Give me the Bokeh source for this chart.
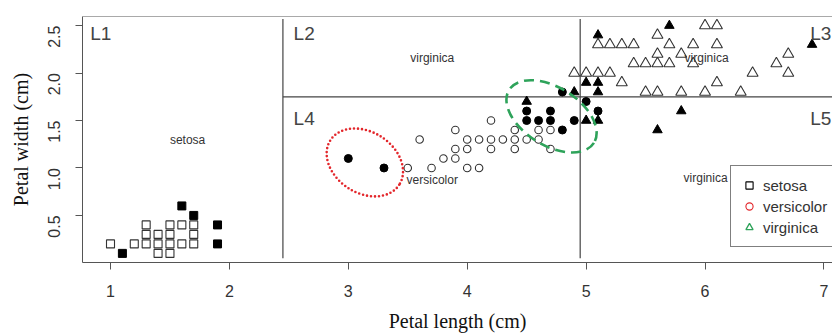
import math
from bokeh.plotting import figure
from bokeh.models import Range1d, FixedTicker, Span, Legend, LegendItem
from bokeh.core.properties import value
from bokeh.embed import file_html
from bokeh.resources import INLINE

# ---------------- data (petal length, petal width) ----------------
setosa_open_x = [1.0, 1.2, 1.3, 1.4, 1.5, 1.6, 1.7, 1.4, 1.5, 1.3, 1.4, 1.5, 1.7, 1.3, 1.5, 1.6, 1.7]
setosa_open_y = [0.2, 0.2, 0.2, 0.2, 0.2, 0.2, 0.2, 0.1, 0.1, 0.3, 0.3, 0.3, 0.3, 0.4, 0.4, 0.4, 0.4]
setosa_fill_x = [1.1, 1.9, 1.9, 1.7, 1.6]
setosa_fill_y = [0.1, 0.2, 0.4, 0.5, 0.6]

versicolor_open_x = [3.5, 3.7, 4.0, 4.1, 3.8, 3.9, 3.9, 4.0, 4.2, 4.4, 4.7, 3.6, 4.0, 4.1, 4.2, 4.3,
                     4.4, 4.5, 4.6, 3.9, 4.4, 4.6, 4.7, 4.2]
versicolor_open_y = [1.0, 1.0, 1.0, 1.0, 1.1, 1.1, 1.2, 1.2, 1.2, 1.2, 1.2, 1.3, 1.3, 1.3, 1.3, 1.3,
                     1.3, 1.3, 1.3, 1.4, 1.4, 1.4, 1.4, 1.5]
versicolor_fill_x = [3.0, 3.3, 4.8, 4.5, 4.6, 4.7, 4.9, 4.5, 4.7, 5.1, 5.0, 4.8]
versicolor_fill_y = [1.1, 1.0, 1.4, 1.5, 1.5, 1.5, 1.5, 1.6, 1.6, 1.6, 1.7, 1.8]

virginica_open_x = [6.0, 6.1, 5.6, 5.1, 5.2, 5.3, 5.4, 5.7, 5.9, 6.1, 5.6, 5.8, 6.7, 5.4, 5.5, 5.6,
                    5.7, 5.9, 6.6, 4.9, 5.0, 5.1, 5.2, 6.4, 6.7, 5.3, 6.1, 5.5, 5.6, 5.8, 6.0, 6.3]
virginica_open_y = [2.5, 2.5, 2.4, 2.3, 2.3, 2.3, 2.3, 2.3, 2.3, 2.3, 2.2, 2.2, 2.2, 2.1, 2.1, 2.1,
                    2.1, 2.1, 2.1, 2.0, 2.0, 2.0, 2.0, 2.0, 2.0, 1.9, 1.9, 1.8, 1.8, 1.8, 1.8, 1.8]
virginica_fill_x = [5.7, 5.1, 6.9, 5.0, 5.1, 4.9, 5.1, 4.5, 5.8, 5.6, 5.0, 5.1]
virginica_fill_y = [2.5, 2.4, 2.3, 1.9, 1.9, 1.8, 1.8, 1.7, 1.6, 1.4, 1.5, 1.5]

# decision-tree split lines
split_x0 = [2.45, 4.95, 2.45]
split_y0 = [0.05, 0.05, 1.75]
split_x1 = [2.45, 4.95, 7.2]
split_y1 = [2.57, 2.57, 1.75]

# region names and class annotations
region_labels = ["L1", "L2", "L3", "L4", "L5"]
region_label_x = [0.83, 2.54, 6.885, 2.54, 6.885]
region_label_y = [2.415, 2.415, 2.415, 1.52, 1.52]

class_labels = ["setosa", "virginica", "versicolor", "virginica", "virginica"]
class_label_x = [1.648, 3.706, 3.706, 6.013, 6.005]
class_label_y = [1.30, 2.163, 0.875, 2.163, 0.89]

# highlighted groups (ellipse centres)
ellipse_x = [3.139, 4.709]
ellipse_y = [1.058, 1.544]

x_ticks = [1, 2, 3, 4, 5, 6, 7]
x_tick_labels = ["1", "2", "3", "4", "5", "6", "7"]
y_ticks = [0.5, 1.0, 1.5, 2.0, 2.5]
y_tick_labels = ["0.5", "1.0", "1.5", "2.0", "2.5"]

legend_names = ["setosa", "versicolor", "virginica"]

# ---------------- figure ----------------
p = figure(width=832, height=336, output_backend="svg", toolbar_location=None,
           x_range=Range1d(0.7645, 7.072), y_range=Range1d(0.004, 2.596),
           min_border_left=82, min_border_right=0, min_border_top=16, min_border_bottom=74)
p.outline_line_color = None
p.grid.visible = False
p.background_fill_color = "white"
p.border_fill_color = "white"

FRAME = "#555555"
for ax in (p.xaxis[0], p.yaxis[0]):
    ax.axis_line_color = FRAME
    ax.major_tick_line_color = FRAME
    ax.minor_tick_line_color = None
    ax.major_tick_out = 7
    ax.major_tick_in = 0
    ax.major_label_text_font = "Liberation Sans"
    ax.major_label_text_font_size = "16px"
    ax.major_label_text_color = "#333333"
    ax.axis_label_text_font = "Liberation Serif"
    ax.axis_label_text_font_size = "20px"
    ax.axis_label_text_font_style = "normal"
    ax.axis_label_text_color = "#111111"

p.xaxis.ticker = FixedTicker(ticks=x_ticks)
p.xaxis.major_label_overrides = dict(zip(x_ticks, x_tick_labels))
p.xaxis.major_label_standoff = 15
p.xaxis.axis_label = "Petal length (cm)"
p.xaxis.axis_label_standoff = 10

p.yaxis.ticker = FixedTicker(ticks=y_ticks)
p.yaxis.major_label_overrides = dict(zip(y_ticks, y_tick_labels))
p.yaxis.major_label_orientation = math.pi / 2
p.yaxis.major_label_standoff = 21
p.yaxis.axis_label = "Petal width (cm)"
p.yaxis.axis_label_standoff = 8

p.add_layout(Span(location=2.596, dimension="width", line_color=FRAME, line_width=1))

# split lines
p.segment(x0=split_x0, y0=split_y0, x1=split_x1, y1=split_y1, line_color="#444444", line_width=1.2)

OPEN = "#333333"
# open markers
p.scatter(setosa_open_x, setosa_open_y, marker="square", size=8, fill_color=None,
          line_color=OPEN, line_width=1.1)
p.scatter(versicolor_open_x, versicolor_open_y, marker="circle", size=7.5, fill_color=None,
          line_color=OPEN, line_width=1.1)
p.scatter(virginica_open_x, virginica_open_y, marker="triangle", size=11, fill_color=None,
          line_color=OPEN, line_width=1.1)
# filled markers
p.scatter(setosa_fill_x, setosa_fill_y, marker="square", size=8, fill_color="black", line_color="black")
p.scatter(versicolor_fill_x, versicolor_fill_y, marker="circle", size=8, fill_color="black", line_color="black")
p.scatter(virginica_fill_x, virginica_fill_y, marker="triangle", size=9.5, fill_color="black", line_color="black")

# ellipses
p.ellipse(x=ellipse_x[:1], y=ellipse_y[:1], width=82, height=61, angle=-33, angle_units="deg",
          width_units="screen", height_units="screen", fill_color=None,
          line_color="#e3262b", line_width=2.6, line_dash="0 4", line_cap="round")
p.ellipse(x=ellipse_x[1:], y=ellipse_y[1:], width=100, height=58, angle=-32, angle_units="deg",
          width_units="screen", height_units="screen", fill_color=None,
          line_color="#2ea35a", line_width=2.6, line_dash="10 6")

# labels
p.text(x=region_label_x, y=region_label_y, text=region_labels, text_font=value("Liberation Sans"),
       text_font_size="19px", text_color="#444444", text_baseline="middle", text_align="left")
p.text(x=class_label_x, y=class_label_y, text=class_labels, text_font=value("Liberation Sans"),
       text_font_size="12px", text_color="#333333", text_baseline="middle", text_align="center")

# legend (hidden renderers carry the legend glyph styles)
lr1 = p.scatter(setosa_open_x, setosa_open_y, marker="square", fill_color=None,
                line_color="black", line_width=1.1, visible=False)
lr2 = p.scatter(versicolor_open_x, versicolor_open_y, marker="circle", fill_color=None,
                line_color="#e3262b", line_width=1.1, visible=False)
lr3 = p.scatter(virginica_open_x, virginica_open_y, marker="triangle", fill_color=None,
                line_color="#2ea35a", line_width=1.3, visible=False)
legend = Legend(items=[LegendItem(label=legend_names[0], renderers=[lr1]),
                       LegendItem(label=legend_names[1], renderers=[lr2]),
                       LegendItem(label=legend_names[2], renderers=[lr3])],
                location=(648, 15), margin=0, padding=9, spacing=1,
                glyph_width=18, glyph_height=20, label_height=20, label_standoff=5,
                label_text_font="Liberation Sans", label_text_font_size="15px",
                label_text_color="#333333", border_line_color="black", border_line_width=1,
                background_fill_color="white", background_fill_alpha=1.0)
p.add_layout(legend)

open("out.html", "w").write(file_html(p, INLINE))
